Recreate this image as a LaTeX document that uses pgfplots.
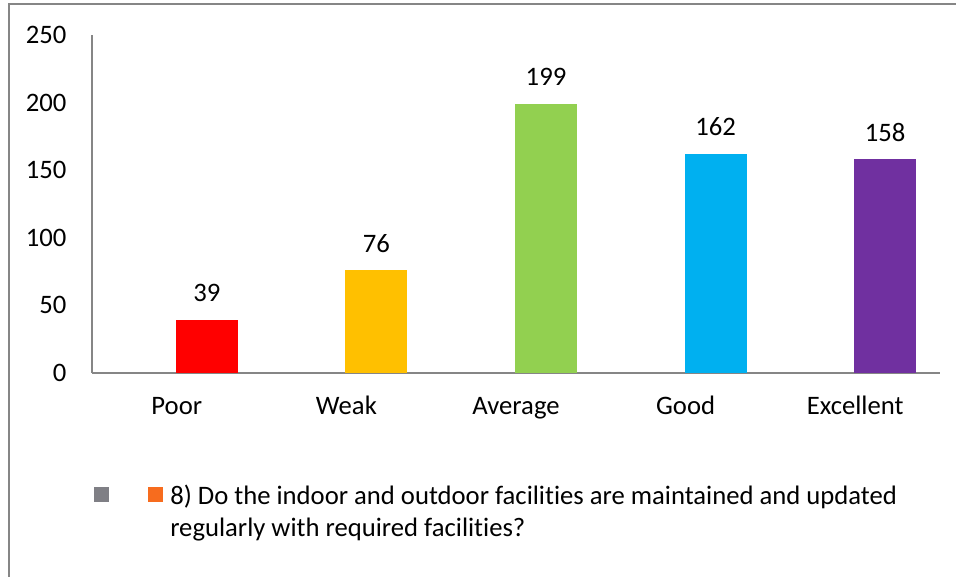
\documentclass[border=0pt]{standalone}
\usepackage{pgfplots}
\pgfplotsset{compat=1.18}
\usepackage{fontspec}
\setmainfont[Ligatures=NoCommon]{Carlito}
\definecolor{cPoor}{RGB}{255,0,0}
\definecolor{cWeak}{RGB}{255,192,0}
\definecolor{cAvg}{RGB}{146,208,80}
\definecolor{cGood}{RGB}{0,176,240}
\definecolor{cExc}{RGB}{112,48,160}
\definecolor{frameg}{RGB}{134,134,134}
\definecolor{axisg}{RGB}{134,134,134}
\definecolor{legg}{RGB}{127,127,133}
\definecolor{lego}{RGB}{247,108,30}
\newcommand{\cfont}{\fontsize{20}{24}\selectfont}
\begin{document}
\begin{tikzpicture}[x=0.75pt,y=0.75pt]
\path[use as bounding box] (0,0) rectangle (956,577);
\clip (0,0) rectangle (956,577);
\draw[frameg,line width=1.5pt] (9,-20) -- (9,573) -- (980,573);
\begin{axis}[
  at={(69pt,153pt)}, anchor=south west,
  scale only axis, width=636pt, height=253.5pt,
  xmin=-0.5, xmax=4.5, ymin=0, ymax=250,
  axis x line*=bottom, axis y line*=left,
  axis line style={axisg, line width=0.9pt},
  ytick={0,50,...,250}, xtick={0,1,2,3,4},
  xticklabels={Poor,Weak,Average,Good,Excellent},
  /pgf/number format/assume math mode=true,
  major tick length=0pt,
  tick style={draw=none},
  every axis plot/.append style={ybar, bar width=46.5pt, bar shift=22.5pt, draw=none},
  y tick label style={font=\cfont, anchor=east, inner sep=0pt, xshift=-19pt},
  x tick label style={font=\cfont, anchor=base, inner sep=0pt, yshift=-31.5pt},
  nodes near coords,
  every node near coord/.append style={font=\cfont, black, anchor=center, xshift=22.5pt, yshift=20.25pt},
  clip=false,
]
\addplot[fill=cPoor] coordinates {(0,39)};
\addplot[fill=cWeak] coordinates {(1,76)};
\addplot[fill=cAvg] coordinates {(2,199)};
\addplot[fill=cGood] coordinates {(3,162)};
\addplot[fill=cExc] coordinates {(4,158)};
\end{axis}
\fill[legg] (94,75) rectangle (109,90);
\fill[lego] (148,75) rectangle (163,90);
\node[anchor=north west, align=left, inner sep=0pt, font=\fontsize{20}{24}\selectfont] at (170,92) {8) Do the indoor and outdoor facilities are maintained and updated\\regularly with required facilities?};
\end{tikzpicture}
\end{document}
